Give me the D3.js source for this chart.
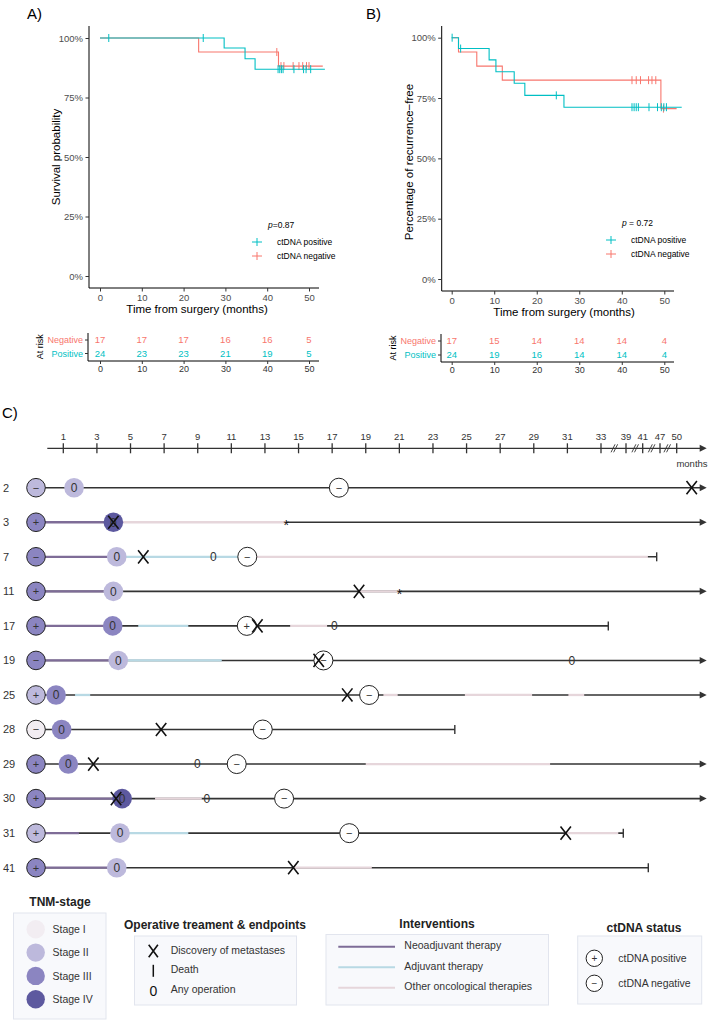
<!DOCTYPE html>
<html>
<head>
<meta charset="utf-8">
<script src="https://cdn.jsdelivr.net/npm/d3@7"></script>
<style>
body { margin: 0; background: #fff; }
text { font-family: "Liberation Sans", Arial, sans-serif; }
</style>
</head>
<body>
<script>
// ---- KM panel A: overall survival ----
var osPosTime = [0, 29.7, 34.7, 37.1, 53.8];
var osPosSurv = [1, 0.958, 0.913, 0.869, 0.869];
var osPosCens = [2.1, 24.7, 42.6, 43.0, 43.4, 43.8, 46.4, 48.7, 49.3, 50.4];
var osNegTime = [0, 23.6, 42.7, 53.3];
var osNegSurv = [1, 0.941, 0.882, 0.882];
var osNegCens = [42.3, 43.3, 44.0, 46.2, 47.6, 48.5, 49.4, 50.0];

// ---- KM panel B: recurrence-free ----
var rfsPosTime = [0, 1.6, 8.8, 10.4, 14.7, 17.2, 26.4, 54.1];
var rfsPosSurv = [1, 0.955, 0.908, 0.859, 0.811, 0.761, 0.712, 0.712];
var rfsPosCens = [0.1, 2.1, 24.6, 42.4, 42.9, 43.4, 43.9, 46.4, 48.4, 49.3, 49.9, 50.5];
var rfsNegTime = [0, 1.6, 5.9, 11.9, 49.2, 52.9];
var rfsNegSurv = [1, 0.941, 0.882, 0.824, 0.706, 0.706];
var rfsNegCens = [42.4, 43.4, 44.4, 46.3, 47.1, 48.0, 49.8];

// ---- numbers at risk ----
var riskTimes = [0, 10, 20, 30, 40, 50];
var osRiskNeg = [17, 17, 17, 16, 16, 5];
var osRiskPos = [24, 23, 23, 21, 19, 5];
var rfsRiskNeg = [17, 15, 14, 14, 14, 4];
var rfsRiskPos = [24, 19, 16, 14, 14, 4];
var percentTicks = [0, 0.25, 0.5, 0.75, 1];

// ---- panel C: patient timelines (months after surgery) ----
var START = -0.625;
var axisTicks = [1, 3, 5, 7, 9, 11, 13, 15, 17, 19, 21, 23, 25, 27, 29, 31, 33, 39, 41, 47, 50];
var axisBreaks = [36.2, 40.1, 44.1, 48.3];
var patientIds = ['2', '3', '7', '11', '17', '19', '25', '28', '29', '30', '31', '41'];
var startStage = [2, 3, 3, 3, 3, 3, 2, 1, 3, 3, 2, 3];
var startCtdna = ['−', '+', '−', '+', '+', '−', '+', '−', '+', '+', '+', '+'];
var patientEnd = [55.4, 55.4, 45.85, 55.4, 34.75, 55.4, 55.4, 24.3, 55.4, 55.4, 38.35, 42.94];
var patientAlive = [true, true, false, true, false, true, true, false, true, true, false, false];

// surgery: [patient, month, pathological stage]
var surgeries = [['2', 1.64, 2], ['3', 3.98, 4], ['7', 4.18, 2], ['11', 3.98, 2], ['17', 3.94, 3], ['19', 4.27, 2],
  ['25', 0.57, 3], ['28', 0.9, 3], ['29', 1.3, 3], ['30', 4.5, 4], ['31', 4.375, 2], ['41', 4.18, 2]];
var laterOps = [['7', 9.93], ['17', 17.13], ['19', 31.26], ['29', 8.98], ['30', 9.54]];
var metastases = [['2', 52.7], ['3', 3.98], ['7', 5.76], ['11', 18.6], ['17', 12.55], ['19', 16.2], ['25', 17.9],
  ['28', 6.82], ['29', 2.79], ['30', 4.14], ['31', 30.9], ['41', 14.69]];
var ctdnaTests = [['2', 17.4, '−'], ['7', 11.95, '−'], ['17', 11.92, '+'], ['19', 16.48, '−'], ['25', 19.2, '−'],
  ['28', 12.87, '−'], ['29', 11.32, '−'], ['30', 14.14, '−'], ['31', 18.02, '−']];
var asterisks = [['3', 14.26], ['11', 21]];

var neoSegs = [['3', START, 3.98], ['7', START, 4.18], ['11', START, 3.98], ['17', START, 3.94], ['19', START, 4.27],
  ['30', START, 4.5], ['31', START, 1.93], ['41', START, 4.18]];
var adjSegs = [['7', 4.18, 11.95], ['17', 5.46, 8.44], ['19', 4.27, 10.43], ['25', 1.7, 2.6], ['31', 4.375, 8.44]];
var otherSegs = [['3', 3.98, 14.26], ['7', 11.95, 42.8], ['11', 18.6, 21], ['17', 14.5, 16.7], ['25', 20.05, 20.9],
  ['25', 24.9, 28.9], ['25', 31.06, 32.0], ['29', 19.0, 29.97], ['30', 6.46, 9.24], ['31', 30.9, 37.15], ['41', 14.69, 19.36]];

// ---- legends ----
var stageNames = ['Stage I', 'Stage II', 'Stage III', 'Stage IV'];
var stageColors = ['#f2edf2', '#bdb9dc', '#8b85c1', '#5d599f'];
var endpointNames = ['Discovery of metastases', 'Death', 'Any operation'];
var interventionNames = ['Neoadjuvant therapy', 'Adjuvant therapy', 'Other oncological therapies'];
var interventionColors = ['#7e6c97', '#b8d9e4', '#e6d6db'];
var ctdnaNames = ['ctDNA positive', 'ctDNA negative'];

var teal = '#00BFC4', salmon = '#F8766D', ink = '#333';

var svg = d3.select('body').append('svg').attr('width', 709).attr('height', 1020);

function stepAt(times, surv, t) {
	var i = d3.bisectRight(times, t) - 1;
	return surv[Math.max(0, i)];
}

function styleAxis(ax, size, col) {
	ax.select('.domain').remove();
	ax.selectAll('line').style('stroke', '#333');
	ax.selectAll('text').style('font-size', size + 'px').style('fill', col).style('font-family', '"Liberation Sans", Arial, sans-serif');
}

function drawKM(c) {
	var g = svg.append('g');
	var x = d3.scaleLinear().domain([0, 50]).range(c.xRange);
	var y = d3.scaleLinear().domain([0, 1]).range(c.yRange);

	g.append('text').attr('x', c.labelX).attr('y', 19).text(c.label).style('font-size', '15px');

	g.append('line').attr('x1', c.axisX).attr('y1', 26).attr('x2', c.axisX).attr('y2', c.axisY).style('stroke', 'black');
	g.append('line').attr('x1', c.axisX).attr('y1', c.axisY).attr('x2', c.right).attr('y2', c.axisY).style('stroke', 'black');
	var ax = g.append('g').attr('transform', 'translate(0,' + c.axisY + ')')
		.call(d3.axisBottom(x).tickValues(riskTimes).tickSize(3.5).tickPadding(2.5));
	styleAxis(ax, 9.5, '#4d4d4d');
	var ay = g.append('g').attr('transform', 'translate(' + c.axisX + ',0)')
		.call(d3.axisLeft(y).tickValues(percentTicks).tickSize(3.5).tickPadding(2.5).tickFormat(function(d){ return (d * 100) + '%'; }));
	styleAxis(ay, 9.5, '#4d4d4d');

	g.append('text').attr('x', c.titleX).attr('y', c.axisY + 25).attr('text-anchor', 'middle')
		.text('Time from surgery (months)').style('font-size', '11.5px');
	g.append('text').attr('transform', 'translate(' + c.yTitleX + ',' + c.yTitleY + ') rotate(-90)')
		.attr('text-anchor', 'middle').text(c.yTitle).style('font-size', '11.5px');

	var line = d3.line().curve(d3.curveStepAfter).x(function(d){ return x(d[0]); }).y(function(d){ return y(d[1]); });
	[[c.negT, c.negS, c.negC, salmon], [c.posT, c.posS, c.posC, teal]].forEach(function(s) {
		g.append('path').datum(d3.zip(s[0], s[1])).attr('d', line)
			.style('fill', 'none').style('stroke', s[3]).style('stroke-width', 1.1);
		g.selectAll(null).data(s[2]).enter().append('line')
			.attr('x1', function(d){ return x(d); }).attr('x2', function(d){ return x(d); })
			.attr('y1', function(d){ return y(stepAt(s[0], s[1], d)) - 4; })
			.attr('y2', function(d){ return y(stepAt(s[0], s[1], d)) + 4; })
			.style('stroke', s[3]).style('stroke-width', 1);
	});

	// legend
	g.append('text').attr('x', c.pX).attr('y', c.legY - 11).style('font-size', '8.5px')
		.html('<tspan font-style="italic">p</tspan>' + c.pText);
	[[ctdnaNames[0], teal], [ctdnaNames[1], salmon]].forEach(function(s, i) {
		var ly = c.legY + 3 + i * 14;
		g.append('line').attr('x1', c.legX).attr('x2', c.legX + 10).attr('y1', ly).attr('y2', ly).style('stroke', s[1]);
		g.append('line').attr('x1', c.legX + 5).attr('x2', c.legX + 5).attr('y1', ly - 4).attr('y2', ly + 4).style('stroke', s[1]);
		g.append('text').attr('x', c.legX + 25).attr('y', ly + 3).text(s[0]).style('font-size', '8.5px');
	});

	// risk table
	var rt = c.risk;
	g.append('line').attr('x1', rt.axisX).attr('x2', rt.axisX).attr('y1', rt.negY - 7).attr('y2', rt.axisY).style('stroke', 'black');
	g.append('line').attr('x1', rt.axisX).attr('x2', c.right).attr('y1', rt.axisY).attr('y2', rt.axisY).style('stroke', 'black');
	var rx = g.append('g').attr('transform', 'translate(0,' + rt.axisY + ')')
		.call(d3.axisBottom(x).tickValues(riskTimes).tickSize(3).tickPadding(2));
	styleAxis(rx, 9, '#333');
	g.append('text').attr('transform', 'translate(' + rt.titleX + ',' + ((rt.negY + rt.posY) / 2) + ') rotate(-90)')
		.attr('text-anchor', 'middle').attr('dy', '0.35em').text('At risk').style('font-size', '9px');
	[['Negative', rt.negY, c.riskNeg, salmon], ['Positive', rt.posY, c.riskPos, teal]].forEach(function(r) {
		g.append('text').attr('x', rt.axisX - 5).attr('y', r[1]).attr('dy', '0.35em').attr('text-anchor', 'end')
			.text(r[0]).style('font-size', '9px').style('fill', r[3]);
		g.append('line').attr('x1', rt.axisX - 3).attr('x2', rt.axisX).attr('y1', r[1]).attr('y2', r[1]).style('stroke', '#333');
		g.selectAll(null).data(r[2]).enter().append('text')
			.attr('x', function(d, i){ return x(riskTimes[i]); }).attr('y', r[1]).attr('dy', '0.35em')
			.attr('text-anchor', 'middle').text(function(d){ return d; }).style('font-size', '9.5px').style('fill', r[3]);
	});
}

drawKM({label: 'A)', labelX: 27, xRange: [100, 309], yRange: [276, 38], axisX: 89, axisY: 288, right: 319,
	titleX: 197, yTitleX: 60, yTitleY: 157, yTitle: 'Survival probability',
	posT: osPosTime, posS: osPosSurv, posC: osPosCens, negT: osNegTime, negS: osNegSurv, negC: osNegCens,
	pX: 268, pText: '=0.87', legX: 252, legY: 239, riskNeg: osRiskNeg, riskPos: osRiskPos,
	risk: {axisX: 88, axisY: 361, negY: 340, posY: 353.5, titleX: 40}});

drawKM({label: 'B)', labelX: 366, xRange: [451.7, 664.3], yRange: [279, 37.7], axisX: 441.7, axisY: 291, right: 674,
	titleX: 564, yTitleX: 413, yTitleY: 162, yTitle: 'Percentage of recurrence−free',
	posT: rfsPosTime, posS: rfsPosSurv, posC: rfsPosCens, negT: rfsNegTime, negS: rfsNegSurv, negC: rfsNegCens,
	pX: 622, pText: ' = 0.72', legX: 606, legY: 237, riskNeg: rfsRiskNeg, riskPos: rfsRiskPos,
	risk: {axisX: 441, axisY: 362, negY: 341, posY: 355, titleX: 393}});

// ---- panel C ----
var tx = d3.scaleLinear().domain([0, 33, 39, 41, 47, 50, 55.4]).range([46.5, 601, 626, 642.7, 660, 676.7, 706.7]);
var ty = d3.scalePoint().domain(patientIds).range([487.7, 867.7]);
var axY = 448.3;
var cg = svg.append('g');

cg.append('text').attr('x', 2).attr('y', 418).text('C)').style('font-size', '15px');

function arrowHead(g, tip, y, len, half) {
	g.append('path').attr('d', 'M' + tip + ',' + y + 'L' + (tip - len) + ',' + (y - half) + 'L' + (tip - len) + ',' + (y + half) + 'Z')
		.style('fill', ink);
}

// time axis
cg.append('line').attr('x1', 47.3).attr('x2', tx(55.4) - 5).attr('y1', axY).attr('y2', axY).style('stroke', ink).style('stroke-width', 1.3);
arrowHead(cg, tx(55.4), axY, 7, 3.5);
cg.selectAll(null).data(axisTicks).enter().append('line')
	.attr('x1', function(d){ return tx(d); }).attr('x2', function(d){ return tx(d); })
	.attr('y1', axY - 5).attr('y2', axY + 5).style('stroke', ink).style('stroke-width', 1.3);
cg.selectAll(null).data(axisTicks).enter().append('text')
	.attr('x', function(d){ return tx(d); }).attr('y', axY - 8).attr('text-anchor', 'middle')
	.text(function(d){ return d; }).style('font-size', '9.5px').style('fill', ink);
axisBreaks.forEach(function(b) {
	[-1.3, 1.3].forEach(function(o) {
		cg.append('line').attr('x1', tx(b) + o - 2).attr('x2', tx(b) + o + 2).attr('y1', axY + 4).attr('y2', axY - 4)
			.style('stroke', ink).style('stroke-width', 0.9);
	});
});
cg.append('text').attr('x', 692).attr('y', axY + 19).attr('text-anchor', 'middle').text('months').style('font-size', '9.5px').style('fill', ink);

// base lines
patientIds.forEach(function(id, i) {
	var y = ty(id);
	cg.append('text').attr('x', 3).attr('y', y).attr('dy', '0.35em').text(id).style('font-size', '11px').style('fill', ink);
	var endX = patientAlive[i] ? tx(patientEnd[i]) - 6 : tx(patientEnd[i]);
	cg.append('line').attr('x1', tx(START)).attr('x2', endX).attr('y1', y).attr('y2', y).style('stroke', ink).style('stroke-width', 1.6);
	if (patientAlive[i]) {
		arrowHead(cg, tx(patientEnd[i]), y, 7, 3.5);
	} else {
		cg.append('line').attr('x1', endX).attr('x2', endX).attr('y1', y - 4.5).attr('y2', y + 4.5).style('stroke', ink).style('stroke-width', 1.4);
	}
});

// therapy segments
[[neoSegs, interventionColors[0]], [adjSegs, interventionColors[1]], [otherSegs, interventionColors[2]]].forEach(function(s) {
	cg.selectAll(null).data(s[0]).enter().append('line')
		.attr('x1', function(d){ return tx(d[1]); }).attr('x2', function(d){ return tx(d[2]); })
		.attr('y1', function(d){ return ty(d[0]); }).attr('y2', function(d){ return ty(d[0]); })
		.style('stroke', s[1]).style('stroke-width', 2.3);
});

// start circles (clinical stage + ctDNA at baseline)
patientIds.forEach(function(id, i) {
	var y = ty(id);
	cg.append('circle').attr('cx', tx(START)).attr('cy', y).attr('r', 9.3)
		.style('fill', stageColors[startStage[i] - 1]).style('stroke', '#222').style('stroke-width', 1);
	cg.append('text').attr('x', tx(START)).attr('y', y).attr('dy', '0.35em').attr('text-anchor', 'middle')
		.text(startCtdna[i]).style('font-size', '11px').style('fill', ink);
});

// surgery circles
cg.selectAll(null).data(surgeries).enter().append('circle')
	.attr('cx', function(d){ return tx(d[1]); }).attr('cy', function(d){ return ty(d[0]); }).attr('r', 9.8)
	.style('fill', function(d){ return stageColors[d[2] - 1]; });
cg.selectAll(null).data(surgeries.concat(laterOps)).enter().append('text')
	.attr('x', function(d){ return tx(d[1]); }).attr('y', function(d){ return ty(d[0]); }).attr('dy', '0.36em')
	.attr('text-anchor', 'middle').text('0').style('font-size', '12px').style('fill', ink);

// ctDNA follow-up tests
cg.selectAll(null).data(ctdnaTests).enter().append('circle')
	.attr('cx', function(d){ return tx(d[1]); }).attr('cy', function(d){ return ty(d[0]); }).attr('r', 9.5)
	.style('fill', 'white').style('stroke', '#222').style('stroke-width', 1);
cg.selectAll(null).data(ctdnaTests).enter().append('text')
	.attr('x', function(d){ return tx(d[1]); }).attr('y', function(d){ return ty(d[0]); }).attr('dy', '0.35em')
	.attr('text-anchor', 'middle').text(function(d){ return d[2]; }).style('font-size', '11px').style('fill', ink);

// asterisks
cg.selectAll(null).data(asterisks).enter().append('text')
	.attr('x', function(d){ return tx(d[1]); }).attr('y', function(d){ return ty(d[0]) + 7.5; })
	.attr('text-anchor', 'middle').text('*').style('font-size', '14px').style('fill', '#111');

// metastases
function drawX(g, x, y, w, h) {
	g.append('path').attr('d', 'M' + (x - w) + ',' + (y - h) + 'L' + (x + w) + ',' + (y + h) + 'M' + (x + w) + ',' + (y - h) + 'L' + (x - w) + ',' + (y + h))
		.style('stroke', '#111').style('stroke-width', 1.6).style('fill', 'none');
}
metastases.forEach(function(d) { drawX(cg, tx(d[1]), ty(d[0]), 5.2, 6.6); });

// ---- legends ----
var lg = svg.append('g');
function legendBox(x, y, w, h) {
	lg.append('rect').attr('x', x).attr('y', y).attr('width', w).attr('height', h)
		.style('fill', '#f8f9fc').style('stroke', '#e2e5ee').style('stroke-width', 1);
}
function legendTitle(x, y, t) {
	lg.append('text').attr('x', x).attr('y', y).attr('text-anchor', 'middle').attr('dy', '0.35em')
		.text(t).style('font-size', '12px').style('font-weight', 'bold').style('fill', '#222');
}

legendTitle(60, 902, 'TNM-stage');
legendBox(13.5, 913, 92.5, 106);
stageNames.forEach(function(s, i) {
	var y = 929.3 + i * 23.3;
	lg.append('circle').attr('cx', 35.7).attr('cy', y).attr('r', 9.2).style('fill', stageColors[i]);
	lg.append('text').attr('x', 52.5).attr('y', y).attr('dy', '0.35em').text(s).style('font-size', '10.5px').style('fill', ink);
});

legendTitle(215, 924.5, 'Operative treament & endpoints');
legendBox(134.5, 936, 162, 69);
endpointNames.forEach(function(s, i) {
	var y = 951 + i * 19.8;
	if (i === 0) drawX(lg, 153.3, y, 4.6, 6.2);
	if (i === 1) lg.append('line').attr('x1', 153.3).attr('x2', 153.3).attr('y1', y - 6).attr('y2', y + 6).style('stroke', '#111').style('stroke-width', 1.5);
	if (i === 2) lg.append('text').attr('x', 153.3).attr('y', y).attr('dy', '0.36em').attr('text-anchor', 'middle').text('0').style('font-size', '14px').style('fill', '#111');
	lg.append('text').attr('x', 170.7).attr('y', y - 1).attr('dy', '0.35em').text(s).style('font-size', '10.5px').style('fill', ink);
});

legendTitle(437, 923.5, 'Interventions');
legendBox(326, 934.5, 222.5, 70.5);
interventionNames.forEach(function(s, i) {
	var y = 946.7 + i * 20.5;
	lg.append('line').attr('x1', 338.3).attr('x2', 395).attr('y1', y).attr('y2', y).style('stroke', interventionColors[i]).style('stroke-width', 2);
	lg.append('text').attr('x', 404.3).attr('y', y - 1).attr('dy', '0.35em').text(s).style('font-size', '10.5px').style('fill', ink);
});

legendTitle(644, 928, 'ctDNA status');
legendBox(577.7, 936, 124, 68);
ctdnaNames.forEach(function(s, i) {
	var y = 958.3 + i * 25;
	lg.append('circle').attr('cx', 594.3).attr('cy', y).attr('r', 8.2).style('fill', 'white').style('stroke', '#222');
	lg.append('text').attr('x', 594.3).attr('y', y).attr('dy', '0.35em').attr('text-anchor', 'middle')
		.text(i === 0 ? '+' : '−').style('font-size', '10px').style('fill', ink);
	lg.append('text').attr('x', 618.3).attr('y', y).attr('dy', '0.35em').text(s).style('font-size', '10.5px').style('fill', ink);
});
</script>
</body>
</html>
